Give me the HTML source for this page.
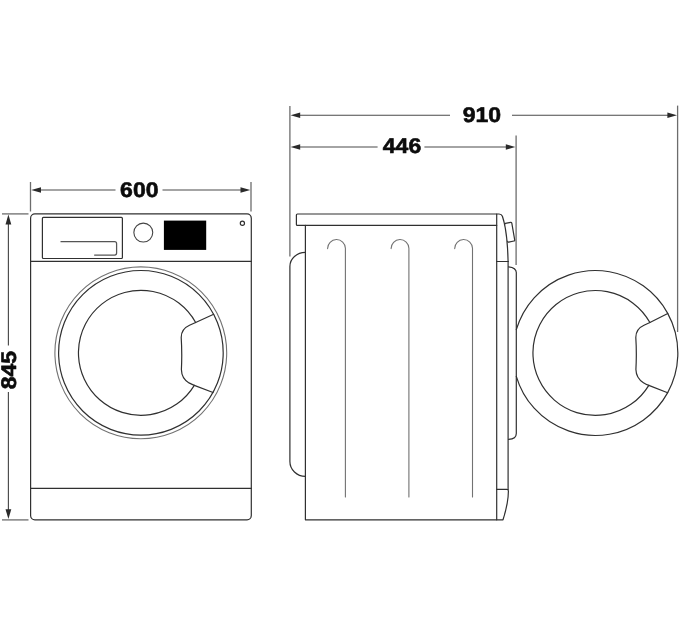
<!DOCTYPE html>
<html>
<head>
<meta charset="utf-8">
<title>Washing machine dimensions</title>
<style>
html,body{margin:0;padding:0;background:#fff;}
body{width:680px;height:630px;overflow:hidden;font-family:"Liberation Sans",sans-serif;}
svg{display:block;}
text{font-family:"Liberation Sans",sans-serif;font-weight:700;fill:#0c0c0c;stroke:#0c0c0c;stroke-width:0.6;stroke-linejoin:round;text-rendering:geometricPrecision;}
.t{filter:url(#tf);}
.o{fill:none;stroke:#303030;stroke-width:1.2;stroke-linecap:round;stroke-linejoin:round;}
.g{fill:none;stroke:#727272;stroke-width:1.1;stroke-linecap:round;stroke-linejoin:round;}
.h{fill:none;stroke:#555;stroke-width:1.25;stroke-linecap:round;stroke-linejoin:round;}
.d{fill:none;stroke:#4a4a4a;stroke-width:1.15;}
.e{fill:none;stroke:#6c6c6c;stroke-width:1.3;}
.a{fill:#2a2a2a;stroke:none;}
</style>
</head>
<body>
<svg width="680" height="630" viewBox="0 0 680 630">
<defs><filter id="tf" x="-10%" y="-10%" width="120%" height="120%" color-interpolation-filters="sRGB"><feGaussianBlur stdDeviation="0.25"/></filter><filter id="sf" x="0" y="0" width="680" height="630" filterUnits="userSpaceOnUse" color-interpolation-filters="sRGB"><feGaussianBlur stdDeviation="0.32"/></filter></defs>
<rect x="0" y="0" width="680" height="630" fill="#ffffff"/>

<g filter="url(#sf)">
<!-- ===== FRONT VIEW ===== -->
<!-- 600 dimension -->
<line class="e" x1="30.5" y1="182" x2="30.5" y2="211.5"/>
<line class="e" x1="251" y1="182" x2="251" y2="211.5"/>
<line class="d" x1="40" y1="190" x2="115.5" y2="190"/>
<line class="d" x1="162.5" y1="190" x2="241" y2="190"/>
<polygon class="a" points="31.2,190 41,187.15 41,192.85"/>
<polygon class="a" points="250.3,190 240.5,187.15 240.5,192.85"/>
<g class="t"><text x="139.3" y="197.1" font-size="21.2" text-anchor="middle" textLength="38.4" lengthAdjust="spacingAndGlyphs">600</text></g>

<!-- 845 dimension -->
<line class="e" x1="2" y1="213.9" x2="28.5" y2="213.9"/>
<line class="e" x1="2" y1="519.9" x2="28.5" y2="519.9"/>
<line class="d" x1="8.4" y1="224" x2="8.4" y2="345.5"/>
<line class="d" x1="8.4" y1="392" x2="8.4" y2="510"/>
<polygon class="a" points="8.4,214.6 5.5,224.4 11.3,224.4"/>
<polygon class="a" points="8.4,519 5.5,509.2 11.3,509.2"/>
<g class="t"><text transform="translate(15.5,370.1) rotate(-90)" x="0" y="0" font-size="21.2" text-anchor="middle" textLength="38.4" lengthAdjust="spacingAndGlyphs">845</text></g>

<!-- body -->
<rect class="o" x="30.6" y="213.9" width="220.7" height="306" rx="4.3" ry="4.3"/>
<line class="o" x1="30.6" y1="261.4" x2="251.3" y2="261.4"/>
<line class="o" x1="30.6" y1="488.4" x2="251.3" y2="488.4"/>
<!-- drawer -->
<rect class="o" x="42.4" y="217.4" width="80" height="41.1" rx="1" ry="1"/>
<path class="h" d="M61,241.7 H114.6 Q116.6,241.7 116.6,243.7 V253 Q116.6,255 114.6,255 H94.6"/>
<!-- knob -->
<circle class="o" cx="143.3" cy="232.6" r="9.45" style="stroke:#444;stroke-width:1.1"/>
<!-- display -->
<rect x="163.9" y="220.6" width="42.3" height="29.3" fill="#000"/>
<!-- led -->
<circle class="o" cx="242.4" cy="223.2" r="2.1"/>
<!-- door -->
<circle class="g" cx="140.8" cy="352.8" r="85.9"/>
<circle class="o" cx="140.9" cy="352.8" r="82.3"/>
<path class="o" d="M195.64,322.54 A62.5,62.5 0 1 0 194.33,385.32"/>
<path class="o" d="M213.67,314.27 L195.64,322.54 L189.5,325.3 Q181.2,329 181.2,337.5 Q182.2,353 181.4,369.5 Q181.6,378.6 189,382.9 Q191.5,384.2 194.33,385.32 L213.03,392.53"/>

<!-- ===== SIDE VIEW ===== -->
<!-- dimensions -->
<line class="e" x1="289.9" y1="106" x2="289.9" y2="256.6"/>
<line class="e" x1="677.6" y1="105.6" x2="677.6" y2="332"/>
<line class="e" x1="516.1" y1="135.6" x2="516.1" y2="265"/>
<line class="d" x1="299" y1="115.2" x2="450" y2="115.2"/>
<line class="d" x1="512" y1="115.2" x2="668" y2="115.2"/>
<polygon class="a" points="290.6,115.2 300.2,112.4 300.2,118"/>
<polygon class="a" points="677,115.2 667.4,112.4 667.4,118"/>
<g class="t"><text x="481.9" y="122.4" font-size="21.2" text-anchor="middle" textLength="38.4" lengthAdjust="spacingAndGlyphs">910</text></g>
<line class="d" x1="299" y1="147" x2="377.6" y2="147"/>
<line class="d" x1="424.4" y1="147" x2="506" y2="147"/>
<polygon class="a" points="290.6,147 300.2,144.2 300.2,149.8"/>
<polygon class="a" points="515.4,147 505.8,144.2 505.8,149.8"/>
<g class="t"><text x="402" y="152.8" font-size="21.2" text-anchor="middle" textLength="38.4" lengthAdjust="spacingAndGlyphs">446</text></g>

<!-- top cover -->
<path class="o" d="M496.7,225.4 H297.4 Q296.4,225.4 296.4,224.4 V215 Q296.4,214 297.4,214 H499 Q501.6,214 502.4,216.2 C505,224 507.6,240 508.1,261.5"/>
<!-- body -->
<path class="o" d="M305.4,225.4 V519.8 H503 C505.8,511 508.4,502 508.4,491 Q508.4,489.4 506.8,489.4 H496.7"/>
<line class="o" x1="496.7" y1="214" x2="496.7" y2="519.8"/>
<line class="o" x1="496.7" y1="261.5" x2="508.1" y2="261.5"/>
<line class="o" x1="508.1" y1="261.5" x2="508.1" y2="489.4"/>
<!-- back bump -->
<path class="o" d="M305.4,252.4 A15.5,14 0 0 0 289.9,266.4 V461.5 A15.5,14.9 0 0 0 305.4,476.4"/>
<!-- knob side -->
<path class="o" d="M504.6,224.6 Q504.4,223.6 505.4,223.4 L510.6,222.3 Q511.6,222.1 511.8,223.1 L514.7,239.8 Q514.9,240.8 513.9,241 L508.8,242.2 Q507.9,242.4 507.7,241.4"/>
<!-- door hinge element -->
<path class="o" d="M508.6,266.8 C512.5,267.2 516.3,268.6 516.3,272.6 V433.5 Q516.3,439 508.6,439.4"/>
<!-- hooks -->
<path class="g" d="M327.6,248.6 A8.9,8.9 0 0 1 345.4,248.3 V497"/>
<path class="g" d="M391.1,248.6 A8.9,8.9 0 0 1 408.9,248.3 V497"/>
<path class="g" d="M454.7,248.6 A8.9,8.9 0 0 1 472.5,248.3 V497"/>

<!-- open door -->
<path class="o" d="M516.3,329.7 A82.45,82.45 0 1 1 516.3,376.3"/>
<path class="o" d="M649.9,322.5 A62.45,62.45 0 1 0 648.81,385.36"/>
<path class="o" d="M667.76,313.47 L649.9,322.5 L644,325.2 Q635.8,328.8 635.8,337.5 Q636.8,353 635.9,369.6 Q636.2,378.4 643.4,382.7 Q646,384.2 648.81,385.36 L667.64,392.73"/>
</g>
</svg>
</body>
</html>
